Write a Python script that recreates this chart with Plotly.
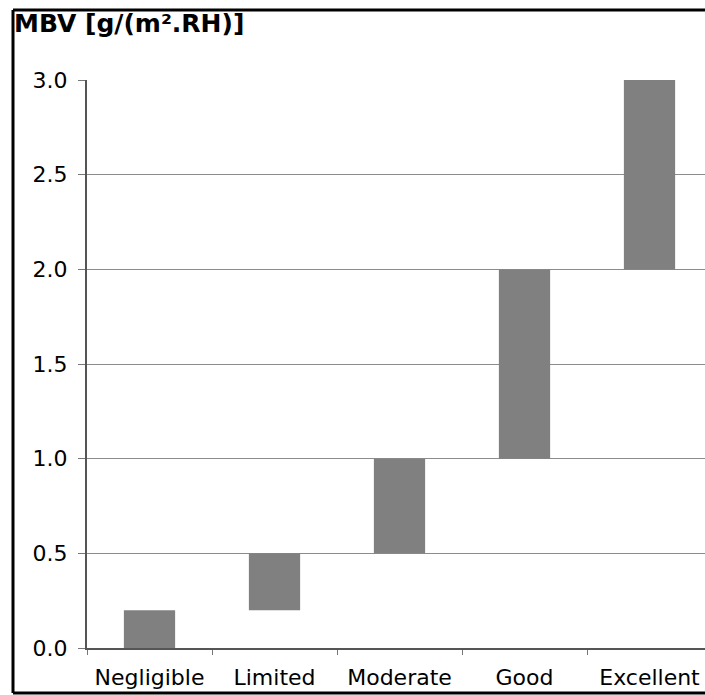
import plotly.graph_objects as go

categories = ["Negligible", "Limited", "Moderate", "Good", "Excellent"]
lower = [0.0, 0.2, 0.5, 1.0, 2.0]
upper = [0.2, 0.5, 1.0, 2.0, 3.0]
y_ticks = [0.0, 0.5, 1.0, 1.5, 2.0, 2.5, 3.0]
y_tick_labels = ["0.0", "0.5", "1.0", "1.5", "2.0", "2.5", "3.0"]

W, H = 705, 695
L, T, B = 87, 80, 47
pw = W - L
ph = H - T - B

fig = go.Figure()
fig.add_trace(go.Bar(
    x=categories,
    y=[u - l for u, l in zip(upper, lower)],
    base=lower,
    width=0.41,
    marker=dict(color="#808080", line=dict(width=0)),
    showlegend=False,
))

font_family = "DejaVu Sans, Arial, sans-serif"

fx0 = (13 - L) / pw
fx1 = 1.0
fy0 = (H - B - 693) / ph
fy1 = (H - B - 10) / ph
frame = dict(type="line", xref="paper", yref="paper",
             line=dict(color="#000000", width=3), layer="above")

fig.update_layout(
    width=W, height=H,
    margin=dict(l=L, r=0, t=T, b=B, autoexpand=False),
    paper_bgcolor="white", plot_bgcolor="white",
    font=dict(family=font_family, size=22, color="#000000"),
    title=dict(text="<b>MBV [g/(m².RH)]</b>", x=14 / W, xref="container",
               xanchor="left", y=1 - 23 / H, yref="container", yanchor="middle",
               font=dict(family=font_family, size=25, color="#000000")),
    xaxis=dict(
        type="category", range=[-0.5, -0.5 + pw / 125.0],
        showgrid=False, showline=True, linecolor="#555555", linewidth=2,
        ticks="outside", tickson="boundaries", ticklen=5, tickcolor="#777777",
        tickwidth=1, ticklabelstandoff=9,
        tickfont=dict(family=font_family, size=22, color="#000000"),
    ),
    yaxis=dict(
        range=[0, 3.0005], tickvals=y_ticks, ticktext=y_tick_labels,
        showgrid=True, gridcolor="#8c8c8c", gridwidth=1,
        showline=True, linecolor="#555555", linewidth=2,
        ticks="outside", ticklen=7, tickcolor="#777777", tickwidth=1,
        ticklabelstandoff=6, zeroline=False,
        tickfont=dict(family=font_family, size=22, color="#000000"),
    ),
    shapes=[
        dict(frame, x0=fx0, x1=fx0, y0=fy0, y1=fy1),
        dict(frame, x0=fx0, x1=fx1, y0=fy1, y1=fy1),
        dict(frame, x0=fx0, x1=fx1, y0=fy0, y1=fy0),
    ],
)

fig.write_html(
    "out.html", config={"displayModeBar": False},
    post_script="document.body.style.margin='0';document.body.style.overflow='hidden';document.documentElement.style.overflow='hidden';",
)
